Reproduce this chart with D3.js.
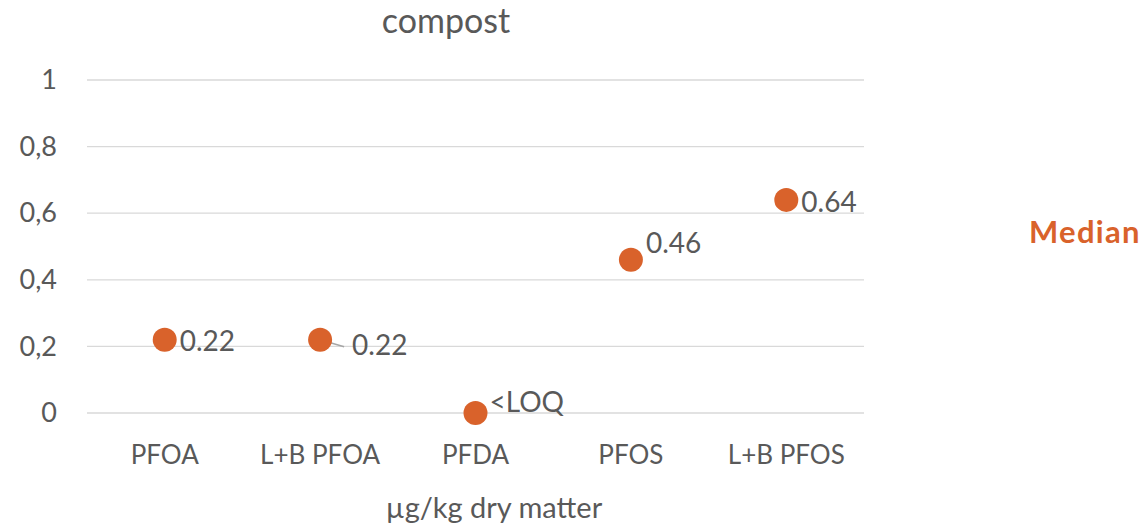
<!DOCTYPE html>
<html>
<head>
<meta charset="utf-8">
<script src="https://cdn.jsdelivr.net/npm/d3@7"></script>
<style>
  body { margin: 0; background: #fff; }
  text { font-family: Lato, "Open Sans", sans-serif; fill: #595959; }
</style>
</head>
<body>
<script>
var categories = ["PFOA", "L+B PFOA", "PFDA", "PFOS", "L+B PFOS"];
var medians = [0.22, 0.22, 0, 0.46, 0.64];
var labels = ["0.22", "0.22", "<LOQ", "0.46", "0.64"];
var yTicks = [0, 0.2, 0.4, 0.6, 0.8, 1];

// label offsets relative to the point (dx, dy), leader line flag
var labelPos = [[15, 1, false], [32, 5, true], [14, -11, false], [15, -17, false], [15, 2, false]];

var W = 1147, H = 525;
var svg = d3.select("body").append("svg").attr("width", W).attr("height", H);

var x = d3.scaleBand().domain(categories).range([87, 864]);
var y = d3.scaleLinear().domain([0, 1]).range([413, 80]);

svg.selectAll(".grid").data(yTicks).enter().append("line")
    .attr("x1", 87).attr("x2", 864)
    .attr("y1", d => y(d)).attr("y2", d => y(d))
    .attr("stroke", "#d9d9d9").attr("stroke-width", 1.3);

var yAxis = svg.append("g").attr("transform", "translate(57,0)")
    .call(d3.axisLeft(y).tickValues(yTicks).tickSize(0).tickPadding(0)
        .tickFormat(d => String(d).replace(".", ",")));
yAxis.select(".domain").remove();
yAxis.selectAll("text").attr("font-size", 27).style("font-family", "Lato, 'Open Sans', sans-serif").attr("fill", "#595959");

var xAxis = svg.append("g").attr("transform", "translate(0,443)")
    .call(d3.axisBottom(x).tickSize(0).tickPadding(0));
xAxis.select(".domain").remove();
xAxis.selectAll("text").attr("font-size", 26).attr("dy", "0.8em").style("font-family", "Lato, 'Open Sans', sans-serif").attr("fill", "#595959");

svg.append("text").attr("x", 446).attr("y", 33).attr("text-anchor", "middle")
    .attr("font-size", 34).text("compost");

svg.append("text").attr("x", 494).attr("y", 518).attr("text-anchor", "middle")
    .attr("font-size", 29).text("µg/kg dry matter");

var pts = categories.map((c, i) => ({c: c, v: medians[i], l: labels[i], p: labelPos[i]}));

svg.selectAll(".leader").data(pts.filter(d => d.p[2])).enter().append("line")
    .attr("x1", d => x(d.c) + x.bandwidth() / 2)
    .attr("y1", d => y(d.v))
    .attr("x2", d => x(d.c) + x.bandwidth() / 2 + d.p[0] - 8)
    .attr("y2", d => y(d.v) + d.p[1] + 2)
    .attr("stroke", "#a6a6a6").attr("stroke-width", 1.5);

svg.selectAll(".pt").data(pts).enter().append("circle")
    .attr("cx", d => x(d.c) + x.bandwidth() / 2)
    .attr("cy", d => y(d.v))
    .attr("r", 12)
    .attr("fill", "#d9622b");

svg.selectAll(".lbl").data(pts).enter().append("text")
    .attr("x", d => x(d.c) + x.bandwidth() / 2 + d.p[0])
    .attr("y", d => y(d.v) + d.p[1])
    .attr("dy", "0.35em")
    .attr("font-size", 28)
    .text(d => d.l);

svg.append("text").attr("x", 1029).attr("y", 243)
    .attr("font-size", 31).attr("font-weight", "bold").attr("letter-spacing", 1.3)
    .style("fill", "#d9622b").text("Median");
</script>
</body>
</html>
